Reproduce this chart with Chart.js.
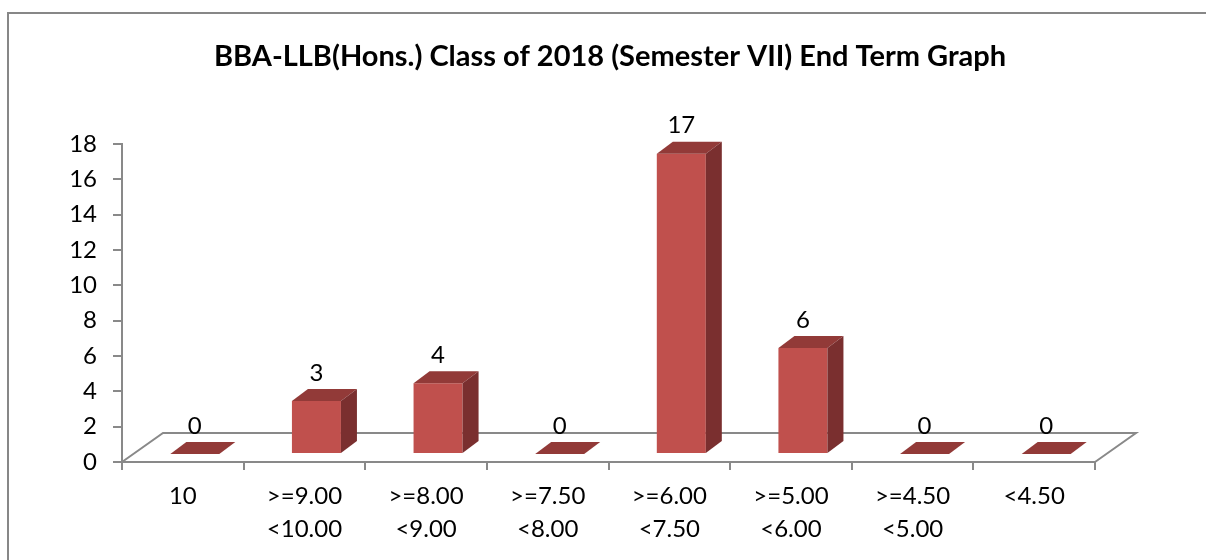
<!DOCTYPE html>
<html><head><meta charset="utf-8">
<script src="https://cdn.jsdelivr.net/npm/chart.js@4.4.1/dist/chart.umd.min.js"></script>
<style>html,body{margin:0;padding:0;background:#fff;overflow:hidden}canvas{display:block}</style>
</head><body>
<canvas id="c" width="1206" height="560"></canvas>
<script>
// ---- data ----
const titleText = 'BBA-LLB(Hons.) Class of 2018 (Semester VII) End Term Graph';
const categories = [
  ['10'],
  ['>=9.00', '<10.00'],
  ['>=8.00', '<9.00'],
  ['>=7.50', '<8.00'],
  ['>=6.00', '<7.50'],
  ['>=5.00', '<6.00'],
  ['>=4.50', '<5.00'],
  ['<4.50']
];
const counts = [0, 3, 4, 0, 17, 6, 0, 0];
const yMin = 0, yMax = 18, yStep = 2;

// ---- styling ----
const FRONT = '#c0504d', TOP = '#923a38', SIDE = '#7a2f2f';
const AXIS = '#898989';
const SHIFT_X = 12, SHIFT_Y = -8;     // bar position inside the floor depth
const DEPTH_X = 16, DEPTH_Y = -12;    // bar depth
const FLOOR_DX = 41, FLOOR_DY = -29;  // floor depth
const FONT = 'Lato, "Open Sans", sans-serif';
const TEXT_SIZE = 24;

const bar3d = {
  id: 'bar3d',
  beforeDraw(chart) {
    const ctx = chart.ctx;
    ctx.save();
    ctx.strokeStyle = '#878787';
    ctx.lineWidth = 2;
    ctx.strokeRect(8, 13, 1400, 1000);
    ctx.restore();
  },
  beforeDatasetsDraw(chart) {
    const ctx = chart.ctx, a = chart.chartArea;
    ctx.save();
    ctx.strokeStyle = AXIS;
    ctx.lineWidth = 2;
    ctx.beginPath();
    ctx.moveTo(a.left, a.bottom);
    ctx.lineTo(a.left + FLOOR_DX, a.bottom + FLOOR_DY);
    ctx.lineTo(a.right + FLOOR_DX, a.bottom + FLOOR_DY);
    ctx.lineTo(a.right, a.bottom);
    ctx.stroke();
    ctx.restore();
    ctx.save();
    ctx.translate(SHIFT_X, SHIFT_Y);
  },
  afterDatasetsDraw(chart) {
    const ctx = chart.ctx;
    ctx.restore();
    const meta = chart.getDatasetMeta(0);
    ctx.save();
    meta.data.forEach((bar, i) => {
      const p = bar.getProps(['x', 'y', 'base', 'width'], true);
      const l = p.x - p.width / 2 + SHIFT_X, r = p.x + p.width / 2 + SHIFT_X;
      const t = p.y + SHIFT_Y, b = p.base + SHIFT_Y;
      ctx.fillStyle = TOP;
      ctx.beginPath();
      ctx.moveTo(l, t); ctx.lineTo(r, t);
      ctx.lineTo(r + DEPTH_X, t + DEPTH_Y); ctx.lineTo(l + DEPTH_X, t + DEPTH_Y);
      ctx.closePath(); ctx.fill();
      if (b - t > 0.5) {
        ctx.fillStyle = SIDE;
        ctx.beginPath();
        ctx.moveTo(r, t); ctx.lineTo(r + DEPTH_X, t + DEPTH_Y);
        ctx.lineTo(r + DEPTH_X, b + DEPTH_Y); ctx.lineTo(r, b);
        ctx.closePath(); ctx.fill();
      }
      ctx.fillStyle = '#000';
      ctx.font = TEXT_SIZE + 'px ' + FONT;
      ctx.textAlign = 'center';
      ctx.textBaseline = 'middle';
      ctx.fillText(String(counts[i]), p.x + SHIFT_X, t - 28);
    });
    ctx.restore();
  }
};

new Chart(document.getElementById('c'), {
  type: 'bar',
  data: {
    labels: categories,
    datasets: [{
      data: counts,
      backgroundColor: FRONT,
      borderWidth: 0,
      barPercentage: 0.403,
      categoryPercentage: 1,
      clip: false
    }]
  },
  options: {
    responsive: false,
    animation: false,
    events: [],
    layout: { padding: { left: 14, right: 0, top: 0, bottom: 0 } },
    plugins: {
      legend: { display: false },
      tooltip: { enabled: false },
      title: {
        display: true,
        text: titleText,
        color: '#000',
        font: { family: FONT, size: 29, weight: 'bold', lineHeight: 1.2 },
        padding: { top: 39.6, bottom: 69.6 }
      }
    },
    scales: {
      x: {
        grid: { display: true, offset: true, drawOnChartArea: false, drawTicks: true, tickLength: 8, color: AXIS, lineWidth: 2 },
        border: { display: true, color: AXIS, width: 2 },
        ticks: { color: '#000', font: { family: FONT, size: TEXT_SIZE, lineHeight: 1.375 }, padding: 10, maxRotation: 0, autoSkip: false },
        afterFit(s) { s.height = 98; }
      },
      y: {
        min: yMin, max: yMax,
        grid: { display: true, drawOnChartArea: false, drawTicks: true, tickLength: 9, color: AXIS, lineWidth: 2 },
        border: { display: true, color: AXIS, width: 2 },
        ticks: { stepSize: yStep, color: '#000', font: { family: FONT, size: TEXT_SIZE }, padding: 16 },
        afterFit(s) { s.width = 108; }
      },
      y2: {
        position: 'right',
        display: true,
        grid: { display: false },
        border: { display: false },
        ticks: { display: false },
        afterFit(s) { s.width = 111; }
      }
    }
  },
  plugins: [bar3d]
});
</script>
</body></html>
